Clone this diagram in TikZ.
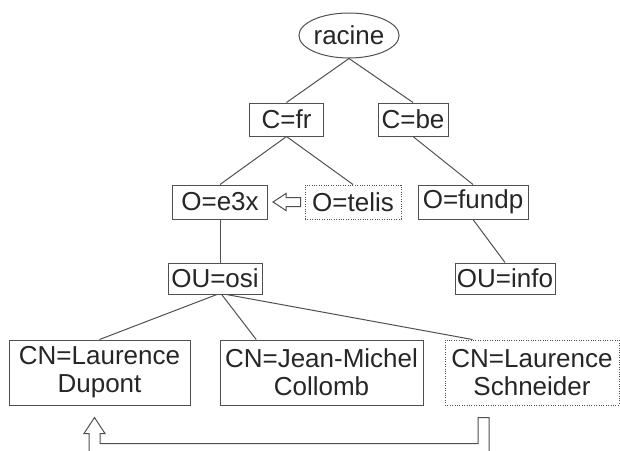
\documentclass[tikz,border=0pt]{standalone}
\usepackage{fontspec}
\setmainfont{Liberation Sans}
\usetikzlibrary{calc,shapes.geometric}
\definecolor{ink}{HTML}{262626}
\definecolor{edge}{HTML}{505050}
\begin{document}
\begin{tikzpicture}[x=1pt,y=-1pt,
  every node/.style={font=\fontsize{26}{28}\selectfont, text=ink},
  entry/.style={draw=edge, line width=1pt, inner sep=0pt, align=center},
  alias/.style={entry, dash pattern=on 1pt off 1.4pt},
  link/.style={draw=edge, line width=1pt},
  hollow/.style={draw=edge, line width=1pt, fill=white, line join=miter}]
\useasboundingbox (0,0) rectangle (620,450);
\clip (0,0) rectangle (620,450);

% directory tree entries
\node[entry, ellipse, minimum width=100pt, minimum height=45pt] (racine) at (349,35.5) {racine};
\node[entry, minimum width=74pt, minimum height=33pt] (cfr) at (286.5,119.5) {C=fr};
\node[entry, minimum width=70pt, minimum height=33pt] (cbe) at (413,119.5) {C=be};
\node[entry, minimum width=95pt, minimum height=34pt] (e3x) at (220,202) {O=e3x};
\node[alias, minimum width=96pt, minimum height=34pt] (telis) at (353,202) {O=telis};
\node[entry, minimum width=110pt, minimum height=34pt] (fundp) at (473,202) {O=fundp};
\node[entry, minimum width=94pt, minimum height=31pt] (osi) at (215,278.5) {OU=osi};
\node[entry, minimum width=100pt, minimum height=31pt] (info) at (505,278.5) {OU=info};
\node[entry, minimum width=181pt, minimum height=65pt] (dupont) at (99.5,372.5) {CN=Laurence\\Dupont};
\node[entry, minimum width=203pt, minimum height=65pt] (collomb) at (321.5,372.5) {CN=Jean-Michel\\Collomb};
\node[alias, minimum width=174pt, minimum height=65pt] (schneider) at (532,372.5) {CN=Laurence\\Schneider};

% tree edges
\draw[link] (racine.south) -- (cfr.north);
\draw[link] (racine.south) -- (cbe.north);
\draw[link] (cfr.south) -- (e3x.north);
\draw[link] (cfr.south) -- (telis.north);
\draw[link] (cbe.south) -- (fundp.north);
\draw[link] (fundp.south) -- (info.north);
\draw[link] (e3x.south) -- (e3x.south |- osi.north);
\draw[link] ($(osi.south west)!0.52!(osi.south east)$) -- (dupont.north);
\draw[link] ($(osi.south west)!0.57!(osi.south east)$) -- ($(collomb.north west)!0.18!(collomb.north east)$);
\draw[link] ($(osi.south west)!0.62!(osi.south east)$) -- ($(schneider.north west)!0.16!(schneider.north east)$);

% alias arrow: O=telis refers to O=e3x
\coordinate (tipA) at ($(e3x.east)+(5,0)$);
\coordinate (tailA) at ($(telis.west)+(-4,0)$);
\draw[hollow] (tipA) -- ($(tipA)+(13,8.5)$) -- ($(tipA)+(13,4.5)$) -- ($(tailA)+(0,4.5)$)
  -- ($(tailA)+(0,-4.5)$) -- ($(tipA)+(13,-4.5)$) -- ($(tipA)+(13,-8.5)$) -- cycle;

% alias arrow: Schneider refers to Dupont
\coordinate (tipB) at ($(dupont.south)+(-5,12)$);
\coordinate (srcB) at ($(schneider.south)+(-48.5,12)$);
\coordinate (bandTop) at ($(tipB)+(0,26)$);
\coordinate (bandBot) at ($(tipB)+(0,40)$);
\coordinate (srcL) at ($(srcB)+(-5.5,0)$);
\coordinate (srcR) at ($(srcB)+(5.5,0)$);
\draw[hollow] (tipB) -- ($(tipB)+(10.5,16)$) -- ($(tipB)+(5.5,16)$) -- ($(bandTop)+(5.5,0)$)
  -- (srcL |- bandTop) -- (srcL) -- (srcR) -- (srcR |- bandBot)
  -- ($(bandBot)+(-5.5,0)$) -- ($(tipB)+(-5.5,16)$) -- ($(tipB)+(-10.5,16)$) -- cycle;
\end{tikzpicture}
\end{document}
